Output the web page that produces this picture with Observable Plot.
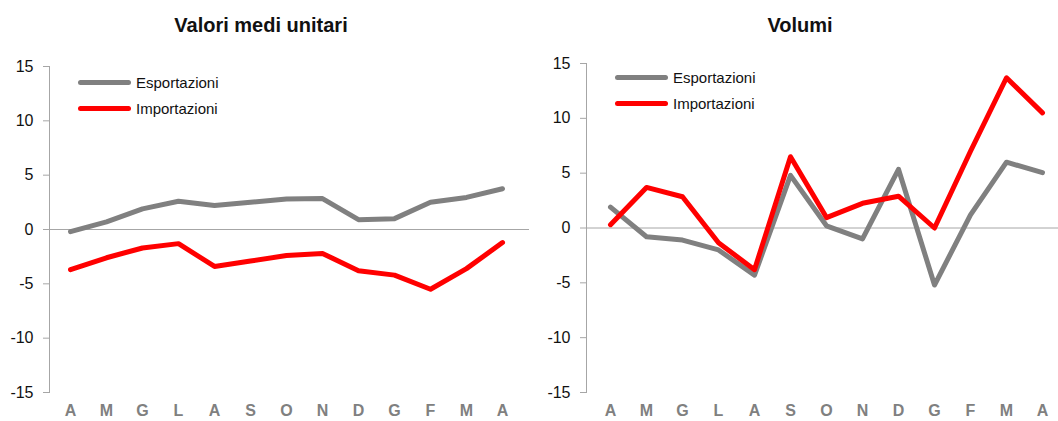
<!DOCTYPE html>
<html><head><meta charset="utf-8">
<script src="https://cdn.jsdelivr.net/npm/d3@7"></script>
<script src="https://cdn.jsdelivr.net/npm/@observablehq/plot@0.6"></script>
<style>
body{margin:0;background:#fff;font-family:"Liberation Sans Narrow","Liberation Sans",Arial,sans-serif;}
#wrap{position:relative;width:1058px;height:421px;overflow:hidden;}
.panel{position:absolute;top:0;width:529px;height:421px;}
.title{position:absolute;top:14px;font-weight:bold;font-size:20px;color:#111;transform:translateX(-50%);white-space:nowrap;}
.leg{position:absolute;font-size:15px;color:#111;display:flex;align-items:center;white-space:nowrap;}
.sw{display:inline-block;width:53px;height:5px;border-radius:3px;margin-right:5px;}
.svgbox{position:absolute;top:40px;left:0;}
</style></head>
<body><div id="wrap"></div>
<script>
const months = ["A","M","G","L","A","S","O","N","D","G","F","M","A"];
const yTicks = [-15,-10,-5,0,5,10,15];
const seriesNames = ["Esportazioni","Importazioni"];
const seriesColors = ["#808080","#ff0000"];
const titles = ["Valori medi unitari","Volumi"];
// Valori medi unitari
const valEsp = [-0.2,0.7,1.9,2.6,2.2,2.5,2.8,2.85,0.9,1.0,2.5,2.95,3.75];
const valImp = [-3.7,-2.6,-1.7,-1.3,-3.4,-2.9,-2.4,-2.2,-3.8,-4.2,-5.5,-3.6,-1.2];
// Volumi
const volEsp = [1.9,-0.8,-1.1,-2.0,-4.3,4.8,0.2,-1.0,5.35,-5.2,1.2,6.0,5.05];
const volImp = [0.3,3.7,2.85,-1.35,-3.8,6.5,0.95,2.25,2.9,0.0,7.0,13.7,10.5];

const panels = [
  {left:0, title:titles[0], titleX:261, series:[valEsp,valImp], ml:49, range:[49,522], mt:26, leg:{x:78,y:82}},
  {left:529, title:titles[1], titleX:271, series:[volEsp,volImp], ml:57, range:[57,536], mt:23, leg:{x:86,y:77}}
];
const wrap = document.getElementById("wrap");
panels.forEach(p => {
  const div = document.createElement("div");
  div.className = "panel"; div.style.left = p.left + "px";
  const t = document.createElement("div");
  t.className = "title"; t.style.left = p.titleX + "px"; t.textContent = p.title;
  div.appendChild(t);
  const data = seriesNames.map((s, k) => p.series[k].map((v, i) => ({i, v, s})));
  const H = 381;
  const chart = Plot.plot({
    width: 529, height: H,
    marginLeft: p.ml, marginRight: 0, marginTop: p.mt, marginBottom: 29,
    style: {fontFamily: '"Liberation Sans Narrow","Liberation Sans",Arial,sans-serif', fontSize: "16px", overflow: "visible"},
    x: {type: "point", domain: d3.range(months.length), range: p.range, padding: 0.5, axis: null},
    y: {domain: [-15, 15], axis: null},
    marks: [
      Plot.ruleY([0], {stroke: "#a6a6a6", strokeWidth: 1}),
      Plot.frame({anchor: "left", stroke: "#a6a6a6"}),
      Plot.axisY({ticks: yTicks, tickSize: 6, tickPadding: 10, label: null, tickFormat: d => String(d), stroke: "#a6a6a6", fill: "#111", fontSize: 16}),
      Plot.axisX({tickSize: 0, tickPadding: 12, label: null, tickFormat: i => months[i], fill: "#808080", fontWeight: "bold", fontSize: 16}),
      ...data.map((d, k) => Plot.line(d, {x: "i", y: "v", stroke: seriesColors[k], strokeWidth: 5, strokeLinejoin: "round", strokeLinecap: "round"}))
    ]
  });
  const box = document.createElement("div");
  box.className = "svgbox"; box.appendChild(chart);
  div.appendChild(box);
  seriesNames.forEach((s, k) => {
    const l = document.createElement("div");
    l.className = "leg";
    l.style.left = p.leg.x + "px";
    l.style.top = (p.leg.y + k * 26 - 11) + "px";
    l.style.height = "22px";
    const sw = document.createElement("span");
    sw.className = "sw"; sw.style.background = seriesColors[k];
    l.appendChild(sw);
    l.appendChild(document.createTextNode(s));
    div.appendChild(l);
  });
  wrap.appendChild(div);
});
</script></body></html>
